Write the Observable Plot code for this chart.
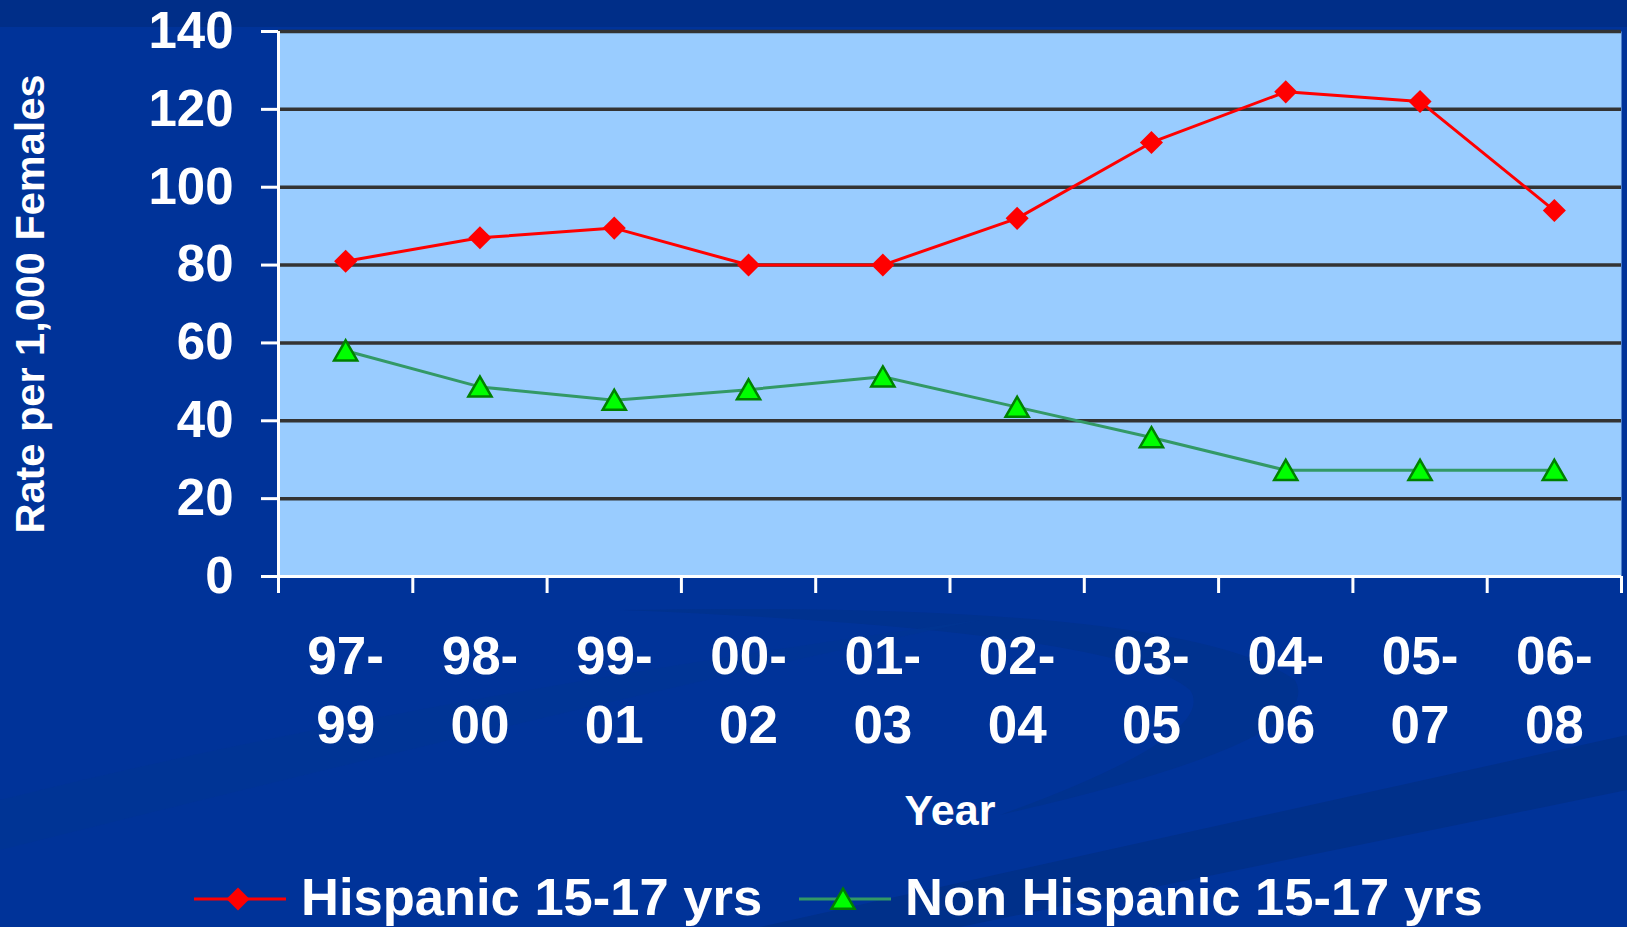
<!DOCTYPE html>
<html>
<head>
<meta charset="utf-8">
<script src="https://cdn.jsdelivr.net/npm/d3@7"></script>
<script src="https://cdn.jsdelivr.net/npm/@observablehq/plot@0.6"></script>
<style>
  html, body { margin: 0; padding: 0; }
  body { width: 1627px; height: 927px; overflow: hidden; background: #003399; font-family: "Liberation Sans", Arial, sans-serif; }
  #wrap { position: relative; width: 1627px; height: 927px; }
  #deco { position: absolute; left: 0; top: 0; }
  #chart { position: absolute; left: 0; top: 0; }
  #legend { position: absolute; left: 0; top: 850px; width: 1627px; height: 77px; }
  .lg-text { position: absolute; top: 21px; font-size: 52.5px; line-height: 52px; font-weight: bold; color: white; white-space: nowrap; }
  .lg-sw { position: absolute; top: 0; }
</style>
</head>
<body>
<div id="wrap">
  <svg id="deco" width="1627" height="927">
    <rect x="0" y="0" width="1627" height="27" fill="#002E88"/>
    <path d="M 620 610 Q 1180 600 1295 680 Q 1330 740 1000 815 Q 1220 735 1190 690 Q 1120 630 620 610 Z" fill="#00328F"/>
    <path d="M 760 927 L 1627 735 L 1627 790 L 960 927 Z" fill="#00308A"/>
    <path d="M 0 800 Q 400 700 980 620 Q 600 700 0 850 Z" fill="#003593" opacity="0.6"/>
  </svg>
  <div id="chart"></div>
  <div id="legend"></div>
</div>
<script>
const categories = ["97-\n99", "98-\n00", "99-\n01", "00-\n02", "01-\n03", "02-\n04", "03-\n05", "04-\n06", "05-\n07", "06-\n08"];
const hispanic = [81, 87, 89.5, 80, 80, 92, 111.5, 124.5, 122, 94];
const nonHispanic = [58, 48.7, 45.3, 48, 51.3, 43.5, 35.7, 27.3, 27.3, 27.3];
const yTicks = [0, 20, 40, 60, 80, 100, 120, 140];
const seriesNames = ["Hispanic 15-17 yrs", "Non Hispanic 15-17 yrs"];
const yTitle = "Rate per 1,000 Females";
const xTitle = "Year";

const n = categories.length;
const idx = d3.range(n);
const bounds = d3.range(n + 1).map(i => i - 0.5);
const hispRows = idx.map(i => ({i, period: categories[i], value: hispanic[i], series: seriesNames[0]}));
const nonRows = idx.map(i => ({i, period: categories[i], value: nonHispanic[i], series: seriesNames[1]}));

const RED = "#FF0000", GREEN_LINE = "#339966", GREEN_FILL = "#00FF00", GREEN_STROKE = "#008000";

const chart = Plot.plot({
  width: 1627,
  height: 850,
  marginTop: 31,
  marginRight: 6,
  marginBottom: 274,
  marginLeft: 278,
  style: {background: "transparent", fontFamily: "'Liberation Sans', Arial, sans-serif", fontWeight: "bold", color: "white", overflow: "visible"},
  x: {type: "linear", domain: [-0.5, n - 0.5]},
  y: {domain: [0, 140]},
  marks: [
    Plot.frame({fill: "#99CCFF", stroke: "none"}),
    Plot.ruleY(yTicks.filter(d => d > 0), {stroke: "#333333", strokeWidth: 3.5}),
    Plot.ruleY([0], {stroke: "white", strokeWidth: 3}),
    Plot.ruleX([-0.5], {stroke: "white", strokeWidth: 3}),
    Plot.axisY({ticks: yTicks, tickSize: 17, tickPadding: 28, fontSize: 51, stroke: "white", strokeWidth: 3, fill: "white", label: null}),
    Plot.axisX({ticks: bounds, tickSize: 17, tickFormat: () => "", stroke: "white", strokeWidth: 3, label: null}),
    Plot.axisX({ticks: idx, tickSize: 0, tickPadding: 49, tickFormat: i => categories[i], fontSize: 53, lineHeight: 1.3, fill: "white", label: null}),
    Plot.line(nonRows, {x: "i", y: "value", stroke: GREEN_LINE, strokeWidth: 3}),
    Plot.line(hispRows, {x: "i", y: "value", stroke: RED, strokeWidth: 3}),
    Plot.dot(hispRows, {x: "i", y: "value", symbol: "diamond2", r: 10.4, fill: RED, stroke: "none"}),
    Plot.dot(nonRows, {x: "i", y: "value", symbol: "triangle", r: 8.6, fill: GREEN_FILL, stroke: GREEN_STROKE, strokeWidth: 2.5, dy: 3}),
    Plot.text([yTitle], {text: d => d, frameAnchor: "left", textAnchor: "middle", lineAnchor: "middle", dx: -248, rotate: -90, fontSize: 41.5, fill: "white", fontWeight: "bold"}),
    Plot.text([xTitle], {text: d => d, frameAnchor: "bottom", lineAnchor: "middle", dy: 235, fontSize: 43, fill: "white", fontWeight: "bold"})
  ]
});
document.getElementById("chart").appendChild(chart);

// Legend
const legend = document.getElementById("legend");
const items = [
  {name: seriesNames[0], swLeft: 194, textLeft: 301, kind: "diamond"},
  {name: seriesNames[1], swLeft: 799, textLeft: 905, kind: "triangle"}
];
for (const it of items) {
  const svg = d3.create("svg").attr("class", "lg-sw").attr("width", 92).attr("height", 77).style("left", it.swLeft + "px");
  if (it.kind === "diamond") {
    svg.append("line").attr("x1", 0).attr("x2", 92).attr("y1", 49).attr("y2", 49).attr("stroke", RED).attr("stroke-width", 3);
    svg.append("path").attr("transform", "translate(44,49)").attr("d", d3.symbol(d3.symbolDiamond2, Math.PI * 10.4 * 10.4)()).attr("fill", RED);
  } else {
    svg.append("line").attr("x1", 0).attr("x2", 92).attr("y1", 49).attr("y2", 49).attr("stroke", GREEN_LINE).attr("stroke-width", 3);
    svg.append("path").attr("transform", "translate(44,52)").attr("d", d3.symbol(d3.symbolTriangle, Math.PI * 8.6 * 8.6)()).attr("fill", GREEN_FILL).attr("stroke", GREEN_STROKE).attr("stroke-width", 2.5);
  }
  legend.appendChild(svg.node());
  const t = document.createElement("div");
  t.className = "lg-text";
  t.style.left = it.textLeft + "px";
  t.textContent = it.name;
  legend.appendChild(t);
}
</script>
</body>
</html>
